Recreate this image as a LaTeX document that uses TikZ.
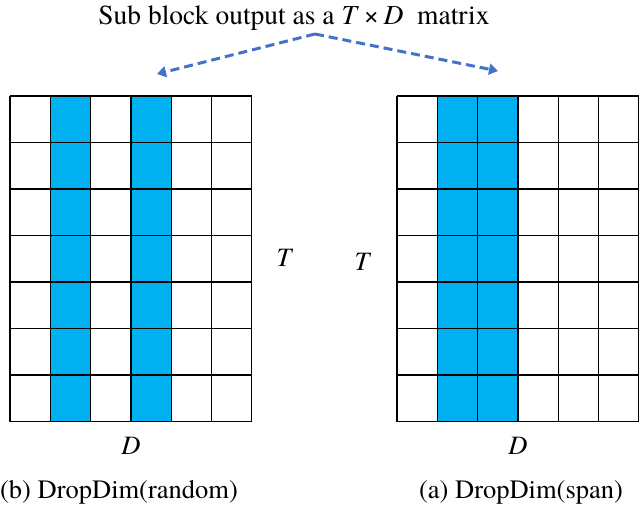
\documentclass[tikz,border=0pt]{standalone}
\usepackage{fontspec}
\setmainfont{TeX Gyre Termes}
\usetikzlibrary{arrows.meta}
\definecolor{cellblue}{HTML}{00B0F0}
\definecolor{arrowblue}{HTML}{4472C4}
\tikzset{
  gridline/.style={draw=black, line width=1.3pt},
  bluecol/.style={fill=cellblue},
  lbl/.style={inner sep=0pt, font=\fontsize{26.5}{32}\selectfont},
  titlelbl/.style={inner sep=0pt, font=\fontsize{27.5}{32}\selectfont},
  dasharrow/.style={draw=arrowblue, line width=3pt, dash pattern=on 9pt off 5pt, -{Triangle[length=9pt,width=11pt]}}
}
\begin{document}
\begin{tikzpicture}[x=1pt,y=-1pt]
\useasboundingbox (0,0) rectangle (640,508);
\fill[white] (0,0) rectangle (640,508);
\def\lx{10}\def\rx{397}\def\cw{40.3}\def\ty{96}\def\rh{46.5}
\foreach \c in {1,3}{
  \fill[bluecol] ({\lx+\c*\cw},\ty) rectangle ({\lx+(\c+1)*\cw},{\ty+7*\rh});
}
\foreach \c in {1,2}{
  \fill[bluecol] ({\rx+\c*\cw},\ty) rectangle ({\rx+(\c+1)*\cw},{\ty+7*\rh});
}
\foreach \gx in {\lx,\rx}{
  \foreach \i in {0,...,6}{
    \draw[gridline] ({\gx+\i*\cw},\ty) -- ({\gx+\i*\cw},{\ty+7*\rh});
  }
  \foreach \j in {0,...,7}{
    \draw[gridline] (\gx,{\ty+\j*\rh}) -- ({\gx+6*\cw},{\ty+\j*\rh});
  }
}
\node[titlelbl] (title) at (294,18) {Sub block output as a \textit{T}\,×\,\textit{D}\ \ matrix};
\coordinate (apex) at (315,34);
\coordinate (ltip) at (157,74);
\coordinate (rtip) at (498,71);
\draw[dasharrow] (apex) -- (ltip);
\draw[dasharrow] (apex) -- (rtip);
\node[lbl] (tleft) at (285,258) {\textit{T}};
\node[lbl] (tright) at (363,262) {\textit{T}};
\node[lbl] (dleft) at (131,446) {\textit{D}};
\node[lbl] (dright) at (518,446) {\textit{D}};
\node[lbl] (capb) at (119,492) {(b) DropDim(random)};
\node[lbl] (capa) at (521,492) {(a) DropDim(span)};
\end{tikzpicture}
\end{document}
